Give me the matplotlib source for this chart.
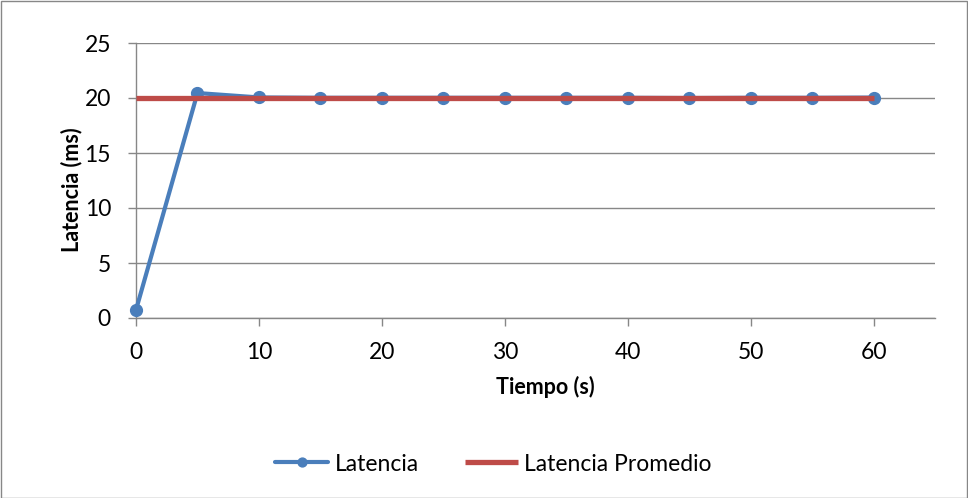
import matplotlib
matplotlib.use("Agg")
import matplotlib.pyplot as plt
from matplotlib.patches import Rectangle

tiempo = [0, 5, 10, 15, 20, 25, 30, 35, 40, 45, 50, 55, 60]
latencia = [0.73, 20.45, 20.05, 20.02, 20.02, 20.02, 20.02, 20.02, 20.02, 20.0, 20.02, 20.02, 20.04]
prom_x = [0, 60]
prom_y = [20.0, 20.0]
xticks = [0, 10, 20, 30, 40, 50, 60]
yticks = [0, 5, 10, 15, 20, 25]

plt.rcParams['font.family'] = ['Lato', 'DejaVu Sans']

fig = plt.figure(figsize=(9.68, 4.98), dpi=100)
W, H = 968, 498
ax = fig.add_axes([136 / W, 1 - 318 / H, (935 - 136) / W, (318 - 43) / H])

grid_c = '#878787'
for y in yticks:
    ax.axhline(y, color=grid_c, lw=1.0, zorder=1)

ax.plot(tiempo, latencia, color='#4A7EBB', lw=3, marker='o', ms=8.5,
        label='Latencia', zorder=3, clip_on=False, solid_capstyle='round')
ax.plot(prom_x, prom_y, color='#BE4B48', lw=3.8, label='Latencia Promedio',
        zorder=4, solid_capstyle='butt')

ax.set_xlim(0, 65)
ax.set_ylim(0, 25)
ax.set_xticks(xticks)
ax.set_yticks(yticks)
ax.tick_params(axis='both', colors=grid_c, labelcolor='black', labelsize=16.5,
               length=6, width=1.0, direction='out')
ax.tick_params(axis='x', pad=11)
ax.tick_params(axis='y', pad=12)
for s in ['top', 'right']:
    ax.spines[s].set_visible(False)
for s in ['left', 'bottom']:
    ax.spines[s].set_color(grid_c)
    ax.spines[s].set_linewidth(1.0)

ax.set_xlabel('Tiempo (s)', fontsize=15.5, fontweight='bold')
ax.set_ylabel('Latencia (ms)', fontsize=15.5, fontweight='bold')
ax.xaxis.set_label_coords(0.512, -0.25)
ax.yaxis.set_label_coords(-0.081, 0.465)
ax.xaxis.label.set_va('center')
ax.yaxis.label.set_va('center')

leg = fig.legend(loc='center', bbox_to_anchor=(0.51, 1 - 464 / H), ncol=2,
                 frameon=False, fontsize=16.5, handlelength=2.3,
                 columnspacing=2.0, handletextpad=0.3, markerscale=0.75)

fig.patches.append(Rectangle((0.5 / W, 0.5 / H), 1 - 1.5 / W, 1 - 1.5 / H,
                             transform=fig.transFigure, fill=False,
                             edgecolor='#878787', lw=1.0))

fig.savefig('out.png', dpi=100)
